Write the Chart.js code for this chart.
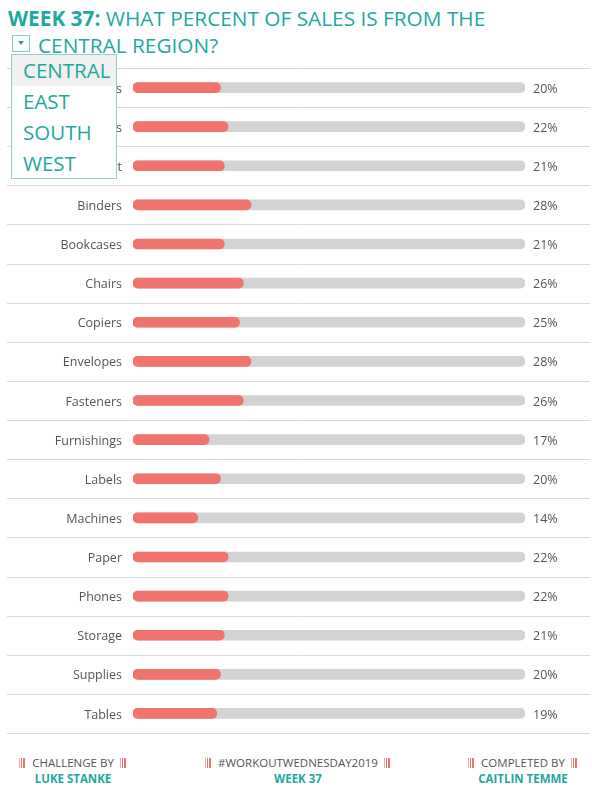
<!DOCTYPE html>
<html><head><meta charset="utf-8">
<script src="https://cdn.jsdelivr.net/npm/chart.js@4"></script>
<style>
body{margin:0;width:592px;height:794px;background:#fff;position:relative;overflow:hidden;font-family:'Open Sans',sans-serif;color:#1fa8a0;}
.t{position:absolute;white-space:nowrap;font-size:20.8px;line-height:26px;color:#1fa8a0;}
#t1{left:8px;top:5px;}
#t1 b{font-weight:700;}
#t2{left:38px;top:32px;}
#arrow{position:absolute;left:12px;top:35px;width:18px;height:17px;border:1px solid #7fcdc8;box-sizing:border-box;}
#arrow:after{content:"";position:absolute;left:5px;top:5px;border-left:3px solid transparent;border-right:3px solid transparent;border-top:4px solid #1fa8a0;}
#dd{position:absolute;left:11px;top:54px;width:106px;height:125px;border:1px solid #8fd3ce;box-sizing:border-box;background:#fff;z-index:5;}
#dd div{height:31px;line-height:31px;padding-left:11px;font-size:20.5px;color:#1fa8a0;}
#dd div.sel{background:#f0f0f0;}
#wrap{position:absolute;left:0;top:68px;width:592px;height:666px;}
.f{position:absolute;top:755px;width:200px;text-align:center;font-size:11.5px;line-height:16px;}
.f .a{color:#555;}
.f .b{color:#1fa8a0;font-weight:700;}
.ic{display:inline-block;width:7px;height:10px;vertical-align:-1px;margin:0 6px;background:linear-gradient(90deg,#f6a9a6 0 1px,#fff 1px 2px,#f07470 2px 3px,#fff 3px 4px,#f07470 4px 6px,#fff 6px);}
</style></head><body>
<div class="t" id="t1"><b>WEEK 37:</b> WHAT PERCENT OF SALES IS FROM THE</div>
<div id="arrow"></div>
<div class="t" id="t2">CENTRAL REGION?</div>
<div id="dd"><div class="sel">CENTRAL</div><div>EAST</div><div>SOUTH</div><div>WEST</div></div>
<div id="wrap"><canvas id="c"></canvas></div>
<div class="f" style="left:-27px"><div class="a"><span class="ic"></span>CHALLENGE BY<span class="ic"></span></div><div class="b">LUKE STANKE</div></div>
<div class="f" style="left:198px"><div class="a"><span class="ic"></span>#WORKOUTWEDNESDAY2019<span class="ic"></span></div><div class="b">WEEK 37</div></div>
<div class="f" style="left:423px"><div class="a"><span class="ic"></span>COMPLETED BY<span class="ic"></span></div><div class="b">CAITLIN TEMME</div></div>
<script>
const categories=["Accessories","Appliances","Art","Binders","Bookcases","Chairs","Copiers","Envelopes","Fasteners","Furnishings","Labels","Machines","Paper","Phones","Storage","Supplies","Tables"];
const centralPct=[20,22,21,28,21,26,25,28,26,17,20,14,22,22,21,20,19];
const trackPct=[100,100,100,100,100,100,100,100,100,100,100,100,100,100,100,100,100];

const sepPlugin={id:'sep',beforeDatasetsDraw(chart){
  const {ctx,chartArea:a}=chart;const n=categories.length;const h=(a.bottom-a.top)/n;
  ctx.save();ctx.strokeStyle='#d9d9d9';ctx.lineWidth=1;
  for(let i=0;i<=n;i++){const y=Math.round(a.top+i*h)+0.5;ctx.beginPath();ctx.moveTo(7,y);ctx.lineTo(590,y);ctx.stroke();}
  ctx.restore();}};
const labPlugin={id:'lab',afterDatasetsDraw(chart){
  const {ctx}=chart;const ys=chart.scales.y;
  ctx.save();ctx.fillStyle='#555';ctx.font="12.5px 'Open Sans'";ctx.textBaseline='middle';
  categories.forEach((c,i)=>{const y=ys.getPixelForValue(i)+1.5;
    ctx.textAlign='right';ctx.fillText(c,122,y);
    ctx.textAlign='left';ctx.fillText(centralPct[i]+'%',533,y);});
  ctx.restore();}};

new Chart(document.getElementById('c'),{
  type:'bar',
  data:{labels:categories,datasets:[
    {data:centralPct,backgroundColor:'#f0736d',base:-3,barThickness:10,borderRadius:5,borderSkipped:false,grouped:false},
    {data:trackPct,backgroundColor:'#d3d3d3',base:-3,barThickness:10,borderRadius:5,borderSkipped:false,grouped:false}
  ]},
  options:{indexAxis:'y',responsive:true,maintainAspectRatio:false,animation:false,
    layout:{padding:{top:0,bottom:1,left:0,right:67}},
    plugins:{legend:{display:false},tooltip:{enabled:false}},
    scales:{
      x:{type:'linear',min:-3,max:100,display:false},
      y:{type:'category',offset:true,grid:{display:false,drawTicks:false},border:{display:false},
         ticks:{display:false},
         afterFit(s){s.width=133;}}
    }},
  plugins:[sepPlugin,labPlugin]
});
</script>
</body></html>
